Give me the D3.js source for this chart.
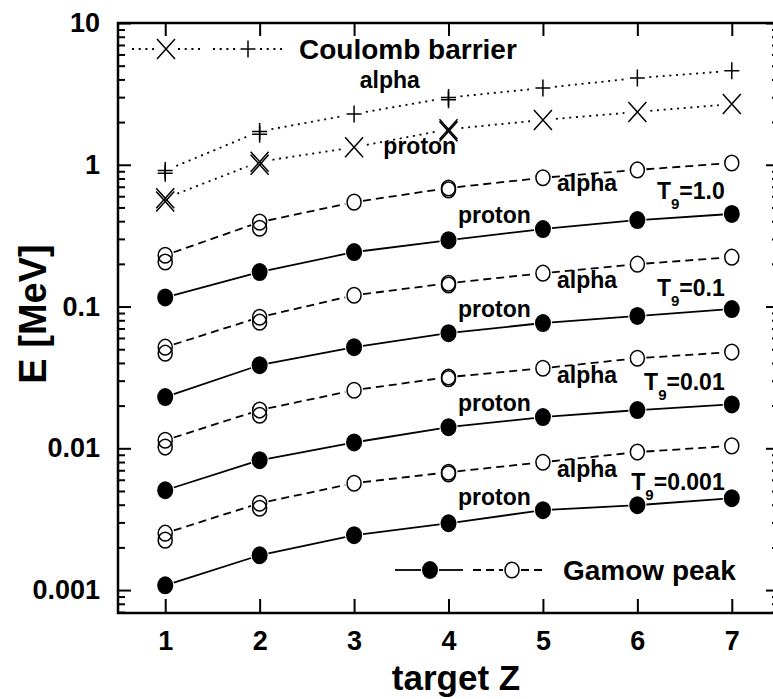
<!DOCTYPE html>
<html>
  <meta charset="utf-8" />
  <script src="https://d3js.org/d3.v7.min.js"></script>
  <style>
    body { margin: 0; background: #fff; }
    text { font-family: "Liberation Sans", Arial, sans-serif; font-weight: bold; fill: #000; }
  </style>
  <body>
    <svg id="chart" width="773" height="699"></svg>
    <script>
      // x categories
      var targetZ = [1, 2, 3, 4, 5, 6, 7]

      // Coulomb barrier (MeV), second isotope where the marker is doubled
      var coulombAlpha = [0.91, 1.72, 2.28, 2.98, 3.48, 4.09, 4.6]
      var coulombAlphaAlt = [0.87, 1.64, null, 2.88, null, null, null]
      var coulombProton = [0.58, 1.05, 1.33, 1.78, 2.07, 2.36, 2.68]
      var coulombProtonAlt = [0.55, 1.0, null, 1.72, null, null, null]

      // Gamow peak, alpha (open circles)
      var alphaT1 = [0.23, 0.394, 0.545, 0.685, 0.81, 0.92, 1.03]
      var alphaT1Alt = [0.206, 0.357, null, 0.665, null, null, null]
      var alphaT01 = [0.0517, 0.0841, 0.12, 0.146, 0.172, 0.199, 0.223]
      var alphaT01Alt = [0.0469, 0.0776, null, 0.142, null, null, null]
      var alphaT001 = [0.0114, 0.0186, 0.0257, 0.0318, 0.0367, 0.0432, 0.0477]
      var alphaT001Alt = [0.0102, 0.0171, null, 0.031, null, null, null]
      var alphaT0001 = [0.00252, 0.0041, 0.00567, 0.00678, 0.00798, 0.0094, 0.0104]
      var alphaT0001Alt = [0.00225, 0.00378, null, 0.0066, null, null, null]

      // Gamow peak, proton (filled circles)
      var protonT1 = [0.116, 0.175, 0.242, 0.294, 0.352, 0.407, 0.45]
      var protonT01 = [0.023, 0.0386, 0.0517, 0.0649, 0.0765, 0.0858, 0.096]
      var protonT001 = [0.00506, 0.00824, 0.011, 0.0141, 0.0166, 0.0186, 0.0204]
      var protonT0001 = [0.00108, 0.00176, 0.00244, 0.00296, 0.00366, 0.00397, 0.00445]

      // axis ticks
      var yTicks = [0.001, 0.01, 0.1, 1, 10]
      var yTickLabels = ["0.001", "0.01", "0.1", "1", "10"]

      var svg = d3.select("svg")

      var x = d3.scaleLinear().domain([0.5, 7.5]).range([118, 779])
      var y = d3.scaleLog().domain([0.000689, 10]).range([613, 23])

      // minor ticks 2..9 of every decade
      var yMinor = []
      ;[-4, -3, -2, -1, 0].forEach(function(p) {
        for (var k = 2; k <= 9; k++) {
          var v = k * Math.pow(10, p)
          if (v > 0.000689 && v < 10) yMinor.push(v)
        }
      })

      function styleAxis(g) {
        g.select(".domain").remove()
        g.selectAll(".tick line").attr("stroke", "#000").attr("stroke-width", 2)
        g.selectAll(".tick text")
          .attr("font-size", 27)
          .attr("font-family", "Liberation Sans, Arial, sans-serif")
          .attr("font-weight", "bold")
      }

      // left axis
      svg.append("g")
        .attr("transform", "translate(118,0)")
        .call(d3.axisLeft(y).tickValues(yTicks).tickSizeInner(-13).tickSizeOuter(0)
          .tickPadding(18).tickFormat(function(d, i) { return yTickLabels[i] }))
        .call(styleAxis)
      svg.append("g")
        .attr("transform", "translate(118,0)")
        .call(d3.axisLeft(y).tickValues(yMinor).tickSizeInner(-7).tickSizeOuter(0).tickFormat(""))
        .call(styleAxis)

      // right axis (mostly outside the picture)
      svg.append("g")
        .attr("transform", "translate(779,0)")
        .call(d3.axisRight(y).tickValues(yTicks).tickSizeInner(-13).tickSizeOuter(0).tickFormat(""))
        .call(styleAxis)
      svg.append("g")
        .attr("transform", "translate(779,0)")
        .call(d3.axisRight(y).tickValues(yMinor).tickSizeInner(-7).tickSizeOuter(0).tickFormat(""))
        .call(styleAxis)

      // bottom and top axes
      svg.append("g")
        .attr("transform", "translate(0,613)")
        .call(d3.axisBottom(x).tickValues(targetZ).tickSizeInner(-14).tickSizeOuter(0)
          .tickPadding(18).tickFormat(d3.format("d")))
        .call(styleAxis)
      svg.append("g")
        .attr("transform", "translate(0,23)")
        .call(d3.axisTop(x).tickValues(targetZ).tickSizeInner(-13).tickSizeOuter(0).tickFormat(""))
        .call(styleAxis)

      // frame
      svg.append("rect")
        .attr("x", 118).attr("y", 23)
        .attr("width", 661).attr("height", 590)
        .attr("fill", "none").attr("stroke", "#000").attr("stroke-width", 2.5)

      // axis titles
      svg.append("text")
        .attr("transform", "translate(46,314) rotate(-90)")
        .attr("text-anchor", "middle")
        .attr("font-size", 38)
        .text("E [MeV]")
      svg.append("text")
        .attr("x", 456).attr("y", 690)
        .attr("text-anchor", "middle")
        .attr("font-size", 35)
        .text("target Z")

      var lineStyles = {
        dot: { dash: "2,4.7", width: 1.8 },
        dash: { dash: "8,5", width: 1.8 },
        solid: { dash: null, width: 1.8 }
      }

      function drawMarker(g, kind, cx, cy, alt) {
        if (kind == "plus") {
          g.append("path")
            .attr("d", "M" + (cx - 7.5) + "," + cy + "H" + (cx + 7.5) + "M" + cx + "," + (cy - 8.5) + "V" + (cy + 8.5))
            .attr("stroke", "#000").attr("stroke-width", 1.5).attr("fill", "none")
        } else if (kind == "cross") {
          g.append("path")
            .attr("d", "M" + (cx - 9) + "," + (cy - 10) + "L" + (cx + 9) + "," + (cy + 10) +
              "M" + (cx - 9) + "," + (cy + 10) + "L" + (cx + 9) + "," + (cy - 10))
            .attr("stroke", "#000").attr("stroke-width", 1.5).attr("fill", "none")
        } else if (kind == "open") {
          g.append("ellipse")
            .attr("cx", cx).attr("cy", cy).attr("rx", 7).attr("ry", 7.8)
            .attr("fill", alt ? "none" : "#fff").attr("stroke", "#000").attr("stroke-width", 1.5)
        } else {
          g.append("ellipse")
            .attr("cx", cx).attr("cy", cy).attr("rx", 8).attr("ry", 9)
            .attr("fill", "#000")
        }
      }

      function segment(g, x0, y0, x1, y1, gap, style) {
        var dx = x1 - x0, dy = y1 - y0
        var len = Math.sqrt(dx * dx + dy * dy)
        var ux = dx / len, uy = dy / len
        var s = lineStyles[style]
        g.append("line")
          .attr("x1", x0 + ux * gap).attr("y1", y0 + uy * gap)
          .attr("x2", x1 - ux * gap).attr("y2", y1 - uy * gap)
          .attr("stroke", "#000").attr("stroke-width", s.width)
          .attr("stroke-dasharray", s.dash)
      }

      var series = [
        { values: coulombAlpha, alt: coulombAlphaAlt, line: "dot", marker: "plus", gap: 12 },
        { values: coulombProton, alt: coulombProtonAlt, line: "dot", marker: "cross", gap: 13 },
        { values: alphaT1, alt: alphaT1Alt, line: "dash", marker: "open", gap: 9 },
        { values: alphaT01, alt: alphaT01Alt, line: "dash", marker: "open", gap: 9 },
        { values: alphaT001, alt: alphaT001Alt, line: "dash", marker: "open", gap: 9 },
        { values: alphaT0001, alt: alphaT0001Alt, line: "dash", marker: "open", gap: 9 },
        { values: protonT1, alt: null, line: "solid", marker: "filled", gap: 9 },
        { values: protonT01, alt: null, line: "solid", marker: "filled", gap: 9 },
        { values: protonT001, alt: null, line: "solid", marker: "filled", gap: 9 },
        { values: protonT0001, alt: null, line: "solid", marker: "filled", gap: 9 }
      ]

      var plot = svg.append("g")
      series.forEach(function(s) {
        for (var i = 0; i < targetZ.length - 1; i++) {
          segment(plot, x(targetZ[i]), y(s.values[i]), x(targetZ[i + 1]), y(s.values[i + 1]), s.gap, s.line)
        }
        targetZ.forEach(function(z, i) {
          drawMarker(plot, s.marker, x(z), y(s.values[i]), false)
          if (s.alt && s.alt[i] != null) drawMarker(plot, s.marker, x(z), y(s.alt[i]), true)
        })
      })

      // curve labels: [text, z, E, anchor]
      var curveLabels = [
        ["alpha", 3.06, 3.48, "start"],
        ["proton", 3.31, 1.19, "start"],
        ["proton", 4.1, 0.388, "start"],
        ["proton", 4.1, 0.0843, "start"],
        ["proton", 4.1, 0.0183, "start"],
        ["proton", 4.1, 0.00398, "start"],
        ["alpha", 5.15, 0.653, "start"],
        ["alpha", 5.15, 0.135, "start"],
        ["alpha", 5.15, 0.0288, "start"],
        ["alpha", 5.15, 0.00627, "start"]
      ]
      curveLabels.forEach(function(l) {
        svg.append("text")
          .attr("x", x(l[1])).attr("y", y(l[2]))
          .attr("text-anchor", l[3])
          .attr("font-size", 23)
          .text(l[0])
      })

      // temperature labels
      var tempLabels = ["1.0", "0.1", "0.01", "0.001"]
      var tempLabelE = [0.573, 0.1186, 0.0258, 0.00508]
      tempLabels.forEach(function(t, i) {
        var tx = svg.append("text")
          .attr("x", x(6.925)).attr("y", y(tempLabelE[i]))
          .attr("text-anchor", "end")
          .attr("font-size", 23)
        tx.append("tspan").text("T")
        tx.append("tspan").attr("font-size", 15).attr("dy", 10).text("9")
        tx.append("tspan").attr("dy", -10).text("=" + t)
      })

      // legend: Coulomb barrier
      var leg = svg.append("g")
      segment(leg, 120, 49, 166, 49, 12, "dot")
      segment(leg, 166, 49, 212, 49, 12, "dot")
      drawMarker(leg, "cross", 166, 49)
      segment(leg, 201, 49, 248, 49, 12, "dot")
      segment(leg, 248, 49, 294, 49, 12, "dot")
      drawMarker(leg, "plus", 248, 49)
      leg.append("text").attr("x", 299).attr("y", 59).attr("font-size", 28).text("Coulomb barrier")

      // legend: Gamow peak
      segment(leg, 386, 570, 430, 570, 9, "solid")
      segment(leg, 430, 570, 472, 570, 9, "solid")
      drawMarker(leg, "filled", 430, 570)
      segment(leg, 464, 570, 512, 570, 9, "dash")
      segment(leg, 512, 570, 555, 570, 9, "dash")
      drawMarker(leg, "open", 512, 570)
      leg.append("text").attr("x", 563).attr("y", 580).attr("font-size", 28).text("Gamow peak")
    </script>
  </body>
</html>
